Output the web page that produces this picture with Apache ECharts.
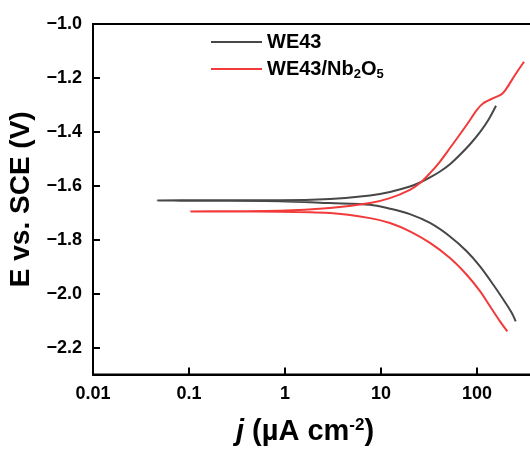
<!DOCTYPE html>
<html>
<head>
<meta charset="utf-8">
<script src="https://cdn.jsdelivr.net/npm/echarts@6/dist/echarts.min.js"></script>
<style>
html,body{margin:0;padding:0;background:#fff;}
#chart{width:530px;height:453px;}
</style>
</head>
<body>
<div id="chart"></div>
<script>
// Series names
const seriesNames = ['WE43', 'WE43/Nb2O5'];

// WE43: current density j (µA cm^-2) and potential E (V vs. SCE), ordered cathodic end -> tip -> anodic end
const we43J = [253, 229.8, 188, 147.9, 107.5, 78.1, 52.3, 32.4, 20.0, 12.4, 7.68, 2.94, 0.887, 0.13, 0.047,
               0.13, 0.887, 2.94, 7.68, 12.4, 20.0, 25.5, 32.4, 41.2, 52.3, 66.5, 84.6, 107.5, 131.2, 157.8];
const we43E = [-2.103, -2.071, -2.022, -1.967, -1.899, -1.843, -1.788, -1.738, -1.705, -1.685, -1.670, -1.664, -1.657, -1.6556, -1.6544,
               -1.6537, -1.654, -1.649, -1.636, -1.623, -1.603, -1.588, -1.569, -1.547, -1.520, -1.485, -1.446, -1.401, -1.356, -1.303];

// WE43/Nb2O5
const nbJ = [207, 173.6, 136.6, 107.5, 78.1, 52.3, 32.4, 20.0, 12.4, 7.68, 2.94, 0.887, 0.267, 0.104,
             0.267, 0.887, 2.94, 7.68, 12.4, 20.0, 25.5, 32.4, 41.2, 52.3, 66.5, 84.6, 99.3, 116.3, 147.9, 180.9, 203.8, 248.8, 309];
const nbE = [-2.140, -2.103, -2.047, -1.991, -1.930, -1.868, -1.812, -1.769, -1.738, -1.720, -1.701, -1.696, -1.6956, -1.695,
             -1.6944, -1.693, -1.6826, -1.664, -1.646, -1.615, -1.590, -1.553, -1.510, -1.460, -1.409, -1.356, -1.319, -1.294, -1.275, -1.260, -1.238, -1.189, -1.140];

// Tick labels
const xTickLabels = {'-2': '0.01', '-1': '0.1', '0': '1', '1': '10', '2': '100', '3': '1000'};
const yTickValues = [-2.2, -2.0, -1.8, -1.6, -1.4, -1.2, -1.0];

const FONT = '"Liberation Sans", Arial, sans-serif';
const pairs = (xs, ys) => xs.map((x, i) => [x, ys[i]]);

const chart = echarts.init(document.getElementById('chart'));
chart.setOption({
  animation: false,
  backgroundColor: '#fff',
  textStyle: {fontFamily: FONT},
  grid: {
    left: 93, top: 24, width: 480, height: 350.5,
    outerBoundsMode: 'none', containLabel: false,
    show: true, borderColor: '#000', borderWidth: 2, backgroundColor: 'transparent'
  },
  legend: {
    orient: 'vertical',
    left: 206, top: 27,
    icon: 'rect',
    itemWidth: 51, itemHeight: 2, itemGap: 5,
    data: seriesNames,
    textStyle: {
      fontFamily: FONT, fontSize: 20, fontWeight: 'bold', color: '#000',
      rich: {
        a: {fontFamily: FONT, fontSize: 20, fontWeight: 'bold', color: '#000', lineHeight: 22},
        s: {fontFamily: FONT, fontSize: 13, fontWeight: 'bold', color: '#000', lineHeight: 22, padding: [11, 0, 0, 0]}
      }
    },
    formatter: function (name) {
      if (name === 'WE43/Nb2O5') return '{a|WE43/Nb}{s|2}{a|O}{s|5}';
      return '{a|' + name + '}';
    }
  },
  xAxis: {
    type: 'log', logBase: 10, min: 0.01, max: 1000,
    name: '{i|j} (µA cm{sup|-2})',
    nameLocation: 'middle', nameGap: 42,
    nameTextStyle: {
      fontFamily: FONT, fontSize: 29, fontWeight: 'bold', color: '#000',
      padding: [0, 56, 0, 0],
      rich: {
        i: {fontFamily: FONT, fontSize: 29, fontWeight: 'bold', fontStyle: 'italic', color: '#000'},
        sup: {fontFamily: FONT, fontSize: 17, fontWeight: 'bold', color: '#000', padding: [0, 0, 14, 0]}
      }
    },
    axisLine: {lineStyle: {color: '#000', width: 2}},
    axisTick: {inside: true, length: 7, lineStyle: {color: '#000', width: 2}},
    minorTick: {show: false},
    splitLine: {show: false},
    axisLabel: {
      margin: 11, fontFamily: FONT, fontSize: 18, fontWeight: 'bold', color: '#000',
      formatter: function (v) { return xTickLabels[String(Math.round(Math.log10(v)))] || ''; }
    }
  },
  yAxis: {
    type: 'value', min: -2.3, max: -1.0,
    name: 'E vs. SCE (V)',
    nameLocation: 'middle', nameGap: 58,
    nameTextStyle: {fontFamily: FONT, fontSize: 28, fontWeight: 'bold', color: '#000'},
    axisLine: {lineStyle: {color: '#000', width: 2}},
    axisTick: {inside: true, length: 7, lineStyle: {color: '#000', width: 2}, customValues: yTickValues},
    splitLine: {show: false},
    axisLabel: {
      margin: 11, fontFamily: FONT, fontSize: 18, fontWeight: 'bold', color: '#000',
      customValues: yTickValues,
      formatter: function (v) { return v.toFixed(1).replace('-', '\u2212'); }
    }
  },
  series: [
    {
      name: seriesNames[0], type: 'line', data: pairs(we43J, we43E),
      symbol: 'none', smooth: 0.3, lineStyle: {color: '#474747', width: 2}, itemStyle: {color: '#474747'}
    },
    {
      name: seriesNames[1], type: 'line', data: pairs(nbJ, nbE),
      symbol: 'none', smooth: 0.3, lineStyle: {color: '#f23a3a', width: 2}, itemStyle: {color: '#f23a3a'}
    }
  ]
});
</script>
</body>
</html>
